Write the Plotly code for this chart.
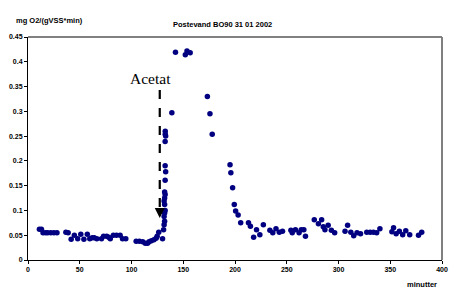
import plotly.graph_objects as go

minutes = [11, 13, 14.5, 17, 19, 22, 25, 28,
           36.6, 38.8, 41.7, 44.8, 48, 51, 54, 57.3, 59.7, 62, 64, 66.5, 71, 73, 76, 78, 79.5,
           82.5, 85.5, 89, 91.3, 94.5,
           104.5, 107.6, 110.8, 113.3, 115.5, 117, 119.2, 121.7, 123.8, 124.8, 126.3, 130,
           131, 131.5, 132, 131.5, 132, 132.5, 132, 131.5, 132, 132.5, 132, 132.5, 133, 132.5, 132.5, 133, 132.6, 132.6,
           139, 142.5, 152, 153.6, 156.7,
           173.3, 175.8, 178,
           195.2, 196, 197.7, 199.3, 200.6, 203, 205.5,
           213, 214.9, 218, 220.8, 224, 227.4, 233.7, 236.5, 239.6, 242.8, 245.9,
           254, 255.3, 258.4, 261.9, 264, 266.5, 268.1,
           276.6, 280.6, 283.7, 285.3, 286.9, 290, 293.1, 296.3,
           306.3, 308.8, 311.9, 314.7, 317.9, 321.3, 327.3, 330.6, 333.8, 336.9, 340,
           351.6, 353.2, 355.7, 358.8, 362, 365, 368.8, 377.3, 380.4]
rate = [0.062, 0.062, 0.055, 0.055, 0.055, 0.055, 0.055, 0.055,
        0.056, 0.055, 0.042, 0.050, 0.043, 0.052, 0.042, 0.052, 0.043, 0.045, 0.045, 0.043, 0.043, 0.048, 0.048, 0.046, 0.043,
        0.050, 0.050, 0.050, 0.043, 0.043,
        0.038, 0.038, 0.037, 0.034, 0.034, 0.037, 0.039, 0.041, 0.044, 0.048, 0.056, 0.043,
        0.061, 0.071, 0.078, 0.088, 0.095, 0.100, 0.112, 0.119, 0.125, 0.132, 0.137, 0.161, 0.178, 0.190, 0.239, 0.250, 0.254, 0.260,
        0.297, 0.419, 0.414, 0.422, 0.418,
        0.330, 0.295, 0.254,
        0.192, 0.176, 0.146, 0.112, 0.099, 0.091, 0.075,
        0.075, 0.068, 0.046, 0.061, 0.051, 0.071, 0.060, 0.055, 0.063, 0.056, 0.058,
        0.060, 0.055, 0.061, 0.055, 0.061, 0.061, 0.048,
        0.081, 0.073, 0.081, 0.067, 0.061, 0.070, 0.060, 0.055,
        0.058, 0.070, 0.056, 0.049, 0.055, 0.053, 0.056, 0.056, 0.056, 0.055, 0.063,
        0.057, 0.065, 0.053, 0.058, 0.051, 0.059, 0.051, 0.050, 0.056]

x_ticks = [0, 50, 100, 150, 200, 250, 300, 350, 400]
y_ticks = [0, 0.05, 0.1, 0.15, 0.2, 0.25, 0.3, 0.35, 0.4, 0.45]
y_tick_labels = ["0", "0.05", "0.1", "0.15", "0.2", "0.25", "0.3", "0.35", "0.4", "0.45"]

title_text = "Postevand BO90 31 01 2002"
y_title = "mg O2/(gVSS*min)"
x_title = "minutter"
event_label = "Acetat"
event_x = 127.3
event_top = 0.343
event_tip = 0.085

navy = "#000080"
tick_font = dict(family="Liberation Sans, Arial", size=7, color="black", weight="bold")

fig = go.Figure()
fig.add_trace(go.Scatter(x=minutes, y=rate, mode="markers",
                         marker=dict(color=navy, size=5.5, symbol="circle", line=dict(width=0)),
                         showlegend=False, hoverinfo="skip"))

fig.add_shape(type="line", xref="x", yref="y", x0=event_x, x1=event_x, y0=event_top, y1=event_tip + 0.01,
              line=dict(color="black", width=2.2, dash="dash"))
fig.add_annotation(x=event_x, y=event_tip, xref="x", yref="y", ax=0, ay=-7, showarrow=True,
                   arrowhead=2, arrowsize=1, arrowwidth=2, arrowcolor="black", text="")
fig.add_annotation(x=118.3, y=0.366, xref="x", yref="y", text=event_label, showarrow=False,
                   font=dict(family="Liberation Serif, Times New Roman", size=15.5, color="black"))

fig.add_annotation(x=0.469, y=1.054, xref="paper", yref="paper", text=title_text, showarrow=False,
                   font=dict(family="Liberation Sans, Arial", size=7.5, color="black", weight="bold"),
                   xanchor="center", yanchor="middle")
fig.add_annotation(x=-0.033, y=1.076, xref="paper", yref="paper", text=y_title, showarrow=False,
                   font=dict(family="Liberation Sans, Arial", size=7.5, color="black", weight="bold"),
                   xanchor="left", yanchor="middle")
fig.add_annotation(x=0.993, y=-0.112, xref="paper", yref="paper", text=x_title, showarrow=False,
                   font=dict(family="Liberation Sans, Arial", size=7.5, color="black", weight="bold"),
                   xanchor="right", yanchor="middle")

# gray frame top/right
fig.add_shape(type="line", xref="paper", yref="paper", x0=0, x1=1, y0=1, y1=1,
              line=dict(color="#808080", width=2))
fig.add_shape(type="line", xref="paper", yref="paper", x0=1, x1=1, y0=0, y1=1,
              line=dict(color="#808080", width=2))

fig.update_xaxes(range=[0, 400], tickvals=x_ticks, showgrid=False, zeroline=False,
                 showline=True, linecolor="black", linewidth=1, ticks="outside", ticklen=3,
                 tickcolor="black", tickfont=tick_font)
fig.update_yaxes(range=[0, 0.45], tickvals=y_ticks, ticktext=y_tick_labels, showgrid=False, zeroline=False,
                 showline=True, linecolor="black", linewidth=1, ticks="outside", ticklen=3,
                 tickcolor="black", tickfont=tick_font)

fig.update_layout(width=457, height=296, margin=dict(l=22, r=9, t=37, b=36),
                  paper_bgcolor="white", plot_bgcolor="white")

fig.write_html("out.html")
